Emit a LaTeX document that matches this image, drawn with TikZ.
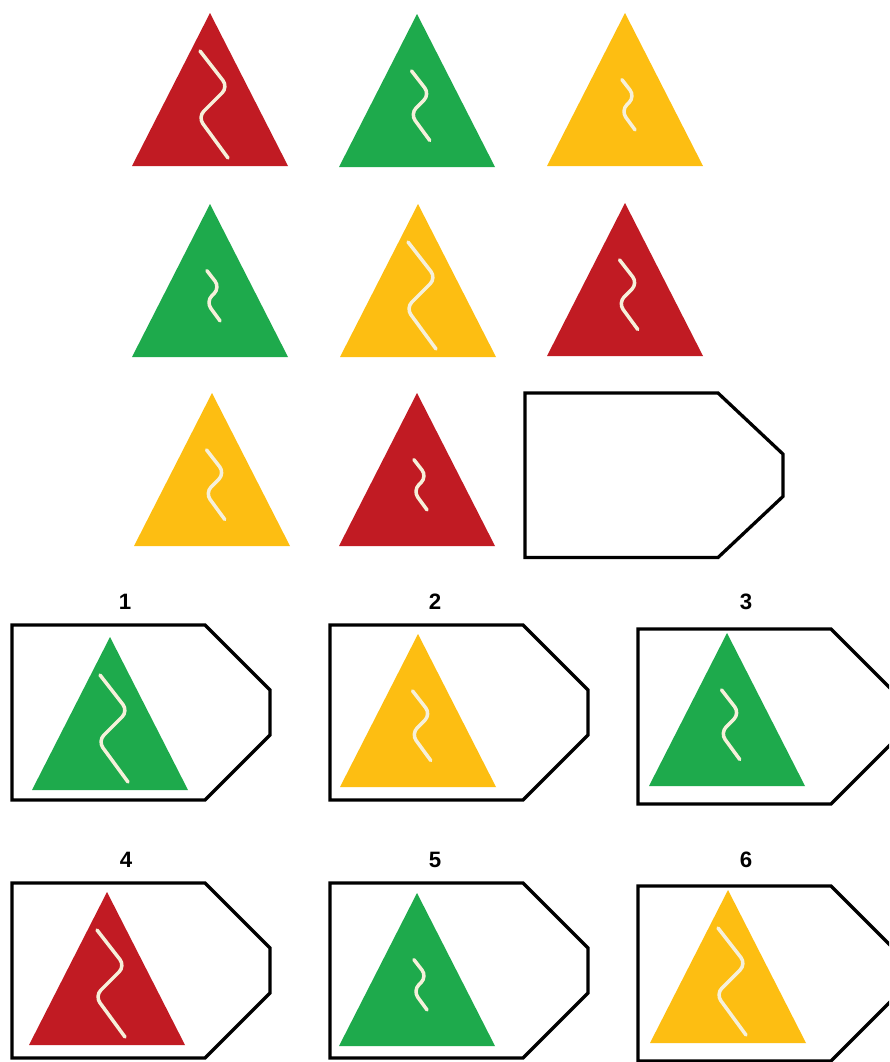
\documentclass[tikz,border=0pt]{standalone}
\usepackage{fontspec}
\setmainfont{Liberation Sans}

\definecolor{signred}{RGB}{193,27,35}
\definecolor{signgreen}{RGB}{30,170,76}
\definecolor{signyellow}{RGB}{253,190,18}
\definecolor{wavecream}{RGB}{246,240,218}

\begin{document}
\begin{tikzpicture}[
  x=0.03cm,
  y=-0.03cm,
  wave/.style={
    draw=wavecream,
    line width=3pt,
    line cap=round,
    rounded corners=7pt
  },
  card/.style={
    draw=black,
    line width=2.8pt,
    line join=miter,
    fill=white
  },
  num/.style={
    font=\bfseries\fontsize{19}{21}\selectfont,
    inner sep=0pt
  },
  pics/sign/.style 2 args={code={
    \fill[#1] (0,0) -- (78,153) -- (-78,153) -- cycle;
    \draw[wave, shift={(3,92)}, scale=#2] (-13,-54) -- (15,-18) -- (-15,12) -- (15,53);
  }},
  pics/frame/.style={code={
    \draw[card] (0,0) -- (193,0) -- (258,65) -- (258,110) -- (193,175) -- (0,175) -- cycle;
  }}
]
\useasboundingbox (0,0) rectangle (889,1062);
\clip (0,0) rectangle (889,1062);

% the 3x3 grid
\pic (g11) at (210,13) {sign={signred}{1}};
\pic (g12) at (417,14) {sign={signgreen}{0.65}};
\pic (g13) at (625,13) {sign={signyellow}{0.47}};

\pic (g21) at (210,204) {sign={signgreen}{0.47}};
\pic (g22) at (418,204) {sign={signyellow}{1}};
\pic (g23) at (625,203) {sign={signred}{0.65}};

\pic (g31) at (212,393) {sign={signyellow}{0.65}};
\pic (g32) at (417,393) {sign={signred}{0.47}};
\pic[yscale=0.94] (g33) at (525,393) {frame};

% answer options
\node[num] (lab1) at (125,602) {1};
\node[num] (lab2) at (435,602) {2};
\node[num] (lab3) at (746,602) {3};
\node[num] (lab4) at (126,860) {4};
\node[num] (lab5) at (435,860) {5};
\node[num] (lab6) at (746,860) {6};

\pic (box1) at (12,625) {frame};
\pic (box2) at (330,625) {frame};
\pic (box3) at (638,629) {frame};
\pic (box4) at (12,883) {frame};
\pic (box5) at (330,883) {frame};
\pic (box6) at (638,886) {frame};

\pic (opt1) at (110,637) {sign={signgreen}{1}};
\pic (opt2) at (418,634) {sign={signyellow}{0.65}};
\pic (opt3) at (727,633) {sign={signgreen}{0.65}};
\pic (opt4) at (107,892) {sign={signred}{1}};
\pic (opt5) at (417,893) {sign={signgreen}{0.47}};
\pic (opt6) at (728,890) {sign={signyellow}{1}};
\end{tikzpicture}
\end{document}
